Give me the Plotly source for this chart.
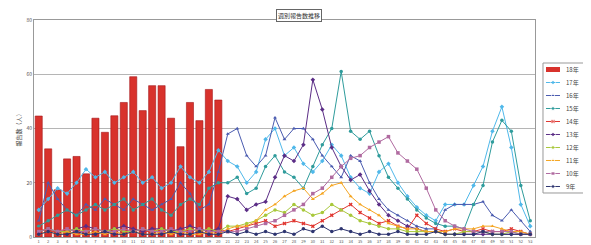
import plotly.graph_objects as go

weeks = list(range(1, 54))
week_labels = [str(w) for w in weeks]

series_names = ["18年", "17年", "16年", "15年", "14年", "13年", "12年", "11年", "10年", "9年"]

y18 = [44.6, 32.5, 17.4, 28.8, 29.7, 23.3, 43.8, 38.6, 44.7, 49.6,
       59.1, 46.6, 55.8, 55.8, 43.8, 33.3, 49.6, 42.9, 54.4, 50.5] + [None] * 33

y17 = [10, 14, 18, 16, 20, 25, 22, 24, 20, 22, 24, 20, 22, 18, 20, 26, 22, 20, 24, 32,
       28, 26, 20, 24, 36, 40, 30, 33, 27, 24, 28, 34, 30, 22, 18, 16, 24, 27, 20, 15,
       11, 8, 6, 12, 12, 12, 19, 26, 39, 48, 33, 12, 4]
y16 = [6, 20, 14, 10, 8, 12, 10, 14, 12, 10, 14, 12, 10, 12, 14, 20, 16, 10, 12, 24,
       38, 40, 30, 26, 30, 44, 36, 40, 40, 36, 30, 26, 22, 30, 28, 20, 14, 10, 8, 6,
       4, 3, 3, 10, 12, 12, 12, 13, 8, 6, 10, 6, 2]
y15 = [4, 6, 8, 10, 8, 10, 12, 10, 12, 14, 10, 12, 14, 10, 8, 12, 14, 12, 18, 20,
       20, 22, 16, 18, 26, 30, 24, 22, 18, 26, 34, 40, 61, 39, 36, 39, 30, 22, 18, 14,
       10, 7, 5, 4, 4, 3, 12, 19, 35, 43, 39, 19, 6]
y14 = [3, 2, 2, 3, 2, 2, 3, 2, 3, 2, 3, 2, 2, 3, 2, 3, 2, 3, 2, 3,
       2, 3, 4, 5, 6, 4, 5, 6, 5, 4, 6, 8, 10, 12, 9, 7, 5, 6, 4, 3,
       8, 5, 3, 2, 3, 2, 2, 3, 2, 2, 3, 2, 1]
y13 = [2, 3, 2, 2, 3, 4, 3, 2, 3, 4, 3, 2, 3, 3, 2, 3, 4, 3, 2, 3,
       15, 14, 10, 12, 13, 22, 30, 28, 34, 58, 47, 33, 26, 21, 23, 17, 12, 8, 6, 4,
       3, 2, 2, 1, 1, 1, 1, 1, 1, 1, 1, 1, 1]
y12 = [2, 3, 2, 2, 3, 2, 3, 2, 3, 2, 2, 3, 2, 3, 2, 2, 3, 2, 3, 2,
       4, 4, 5, 6, 8, 10, 9, 12, 10, 8, 9, 12, 10, 8, 6, 5, 4, 3, 3, 2,
       2, 2, 2, 1, 1, 2, 2, 2, 1, 1, 2, 1, 1]
y11 = [1, 2, 1, 2, 1, 1, 2, 1, 2, 1, 2, 1, 1, 2, 1, 2, 1, 1, 2, 1,
       3, 4, 4, 6, 10, 12, 15, 17, 18, 14, 16, 19, 20, 15, 12, 10, 8, 5, 4, 3,
       3, 2, 2, 2, 3, 3, 3, 4, 4, 3, 2, 2, 1]
y10 = [2, 3, 2, 3, 2, 2, 3, 2, 2, 3, 2, 3, 2, 2, 3, 2, 2, 3, 2, 2,
       2, 2, 3, 4, 5, 6, 8, 10, 12, 16, 18, 22, 26, 29, 30, 33, 35, 37, 31, 28,
       25, 18, 10, 6, 4, 3, 2, 2, 2, 2, 2, 1, 1]
y9 = [1, 2, 1, 1, 2, 1, 1, 2, 1, 1, 2, 1, 1, 1, 2, 1, 1, 2, 1, 1,
      2, 1, 2, 1, 2, 1, 2, 1, 3, 2, 4, 2, 3, 2, 1, 2, 1, 1, 2, 1,
      1, 1, 2, 1, 1, 1, 1, 2, 1, 1, 1, 1, 1]

line_data = [y17, y16, y15, y14, y13, y12, y11, y10, y9]
line_colors = ["#4fb8ea", "#4b5cb0", "#2f9c9c", "#e0352f", "#5b2d86",
               "#a8c83a", "#f5a623", "#b06aa0", "#2e3570"]
line_symbols = ["diamond", "triangle-up", "circle", "x", "diamond",
                "circle", "triangle-up", "square", "circle"]

y_ticks = [0, 20, 40, 60, 80]
bar_color = "#d8322c"

fig = go.Figure()

fig.add_trace(go.Bar(x=weeks, y=y18, name=series_names[0],
                     marker=dict(color=bar_color, line=dict(color="#a5151a", width=0.6)),
                     showlegend=False))

for name, ys, col, sym in zip(series_names[1:], line_data, line_colors, line_symbols):
    fig.add_trace(go.Scatter(x=weeks, y=ys, name=name, mode="lines+markers",
                             line=dict(color=col, width=1),
                             marker=dict(color=col, size=3.5, symbol=sym),
                             showlegend=False))

# manual legend on its own small axes
for i, name in enumerate(series_names):
    yy = i + 1
    if i == 0:
        fig.add_trace(go.Scatter(x=[0.6, 3.4], y=[yy, yy], mode="lines",
                                 line=dict(color=bar_color, width=5),
                                 xaxis="x2", yaxis="y2", showlegend=False, hoverinfo="skip"))
    else:
        col = line_colors[i - 1]
        fig.add_trace(go.Scatter(x=[0.6, 2.0, 3.4], y=[yy, yy, yy], mode="lines+markers",
                                 line=dict(color=col, width=1),
                                 marker=dict(color=col, size=[0, 4, 0], symbol=line_symbols[i - 1]),
                                 xaxis="x2", yaxis="y2", showlegend=False, hoverinfo="skip"))
    fig.add_annotation(x=4.2, y=yy, xref="x2", yref="y2", text=name, showarrow=False,
                       xanchor="left", yanchor="middle", font=dict(size=6, color="#444"))

fig.add_shape(type="rect", xref="x2 domain", yref="y2 domain", x0=0, x1=1, y0=0, y1=1,
              line=dict(color="#999", width=1))

fig.add_annotation(x=0.472, y=1.052, xref="paper", yref="paper", text="週別報告数推移",
                   showarrow=False, xanchor="center", yanchor="top",
                   font=dict(size=6, color="#333"), bordercolor="#666", borderwidth=1,
                   borderpad=1, bgcolor="white")

fig.update_layout(
    width=591, height=245,
    margin=dict(l=26, r=4, t=12, b=16),
    paper_bgcolor="white", plot_bgcolor="white",
    bargap=0.25,
    font=dict(family="Noto Sans CJK JP, sans-serif"),
    xaxis=dict(domain=[0, 0.893], range=[0.5, 53.5], tickmode="array",
               tickvals=weeks, ticktext=week_labels, tickfont=dict(size=4, color="#555"),
               showgrid=False, showline=True, linecolor="#999", mirror=True, ticks="",
               ticklen=0),
    yaxis=dict(range=[0, 80], tickvals=y_ticks, tickfont=dict(size=5, color="#555"),
               showgrid=True, gridcolor="#b5b5b5", gridwidth=1, showline=True,
               linecolor="#999", mirror=True, zeroline=False,
               title=dict(text="報告数（人）", font=dict(size=6, color="#444"), standoff=4)),
    xaxis2=dict(domain=[0.9073, 0.9964], range=[0, 10], visible=False, anchor="y2"),
    yaxis2=dict(domain=[0.2028, 0.8018], range=[10.5, 0.5], visible=False, anchor="x2"),
)

fig.write_html("out.html")
